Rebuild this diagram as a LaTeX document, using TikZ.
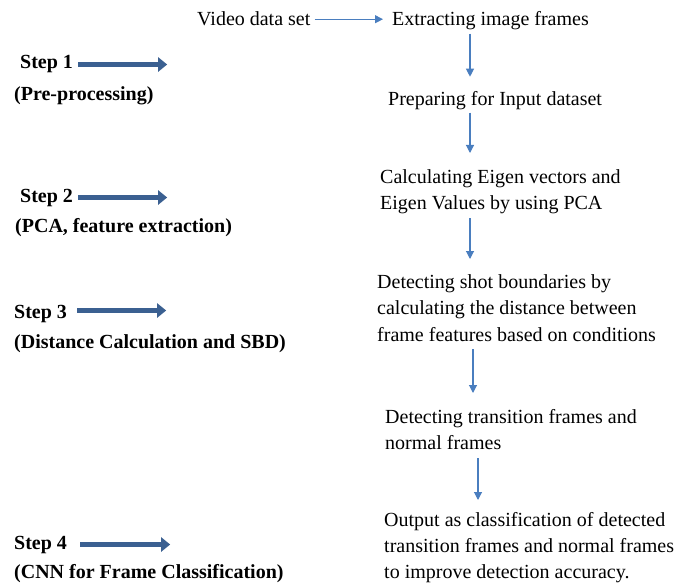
\documentclass[tikz,border=0pt]{standalone}
\usepackage{fontspec}
\setmainfont{Liberation Serif}
\usetikzlibrary{arrows.meta}

\definecolor{flowblue}{HTML}{4A7EBF}
\definecolor{stepblue}{HTML}{3B6091}

\begin{document}
\begin{tikzpicture}[x=1pt,y=-1pt,
  txt/.style={inner sep=0pt,anchor=base west,font=\fontsize{20}{26.5}\selectfont},
  box/.style={inner sep=0pt,anchor=north west,align=left,font=\fontsize{20}{26.5}\selectfont},
  lab/.style={inner sep=0pt,anchor=base west,font=\fontsize{20}{24}\selectfont\bfseries},
  flow/.style={-{Triangle[length=8pt,width=8pt]},draw=flowblue,line width=1.1pt},
  stp/.style={-{Triangle[length=9pt,width=14pt]},draw=stepblue,line width=5pt}]

\useasboundingbox (0,0) rectangle (688,583);

% right column: the processing chain
\node[txt] (video) at (197,26) {Video data set};
\node[txt] (extract) at (392,26) {Extracting image frames};
\node[txt] (prep) at (388,106) {Preparing for Input dataset};
\node[box] (pca) at (380,169) {Calculating Eigen vectors and\\Eigen Values by using PCA};
\node[box] (sbd) at (377,274) {Detecting shot boundaries by\\calculating the distance between\\frame features based on conditions};
\node[box] (trans) at (385,409) {Detecting transition frames and\\normal frames};
\node[box,font=\fontsize{20}{26}\selectfont] (out) at (384,512) {Output as classification of detected\\transition frames and normal frames\\to improve detection accuracy.};

\draw[flow,shorten <=4pt,shorten >=9pt] (video.east) -- (video.east -| extract.west);
\draw[flow] ([xshift=78pt,yshift=-3pt]extract.south west) -- ([xshift=82pt,yshift=15pt]prep.north west);
\draw[flow] ([xshift=82pt,yshift=-2pt]prep.south west) -- ([xshift=90pt,yshift=16pt]pca.north west);
\draw[flow] ([xshift=90pt,yshift=-4pt]pca.south west) -- ([xshift=93pt,yshift=15pt]sbd.north west);
\draw[flow] ([xshift=96pt,yshift=-8pt]sbd.south west) -- ([xshift=88pt,yshift=16pt]trans.north west);
\draw[flow] ([xshift=93pt,yshift=-8pt]trans.south west) -- ([xshift=94pt,yshift=12pt]out.north west);

% left column: the four steps
\node[lab] (s1) at (20,69) {Step 1};
\node[lab] (s1t) at (14,101) {(Pre-processing)};
\draw[stp] ([xshift=5pt]s1.east) -- ++(89,0);

\node[lab] (s2) at (20,202) {Step 2};
\node[lab] (s2t) at (15,232) {(PCA, feature extraction)};
\draw[stp] ([xshift=5pt]s2.east) -- ++(89,0);

\node[lab] (s3) at (14,318) {Step 3};
\node[lab] (s3t) at (14,348) {(Distance Calculation and SBD)};
\draw[stp] ([xshift=10pt,yshift=3pt]s3.east) -- ++(89,0);

\node[lab] (s4) at (14,549) {Step 4};
\node[lab] (s4t) at (14,578) {(CNN for Frame Classification)};
\draw[stp] ([xshift=13pt]s4.east) -- ++(90,0);
\end{tikzpicture}
\end{document}
